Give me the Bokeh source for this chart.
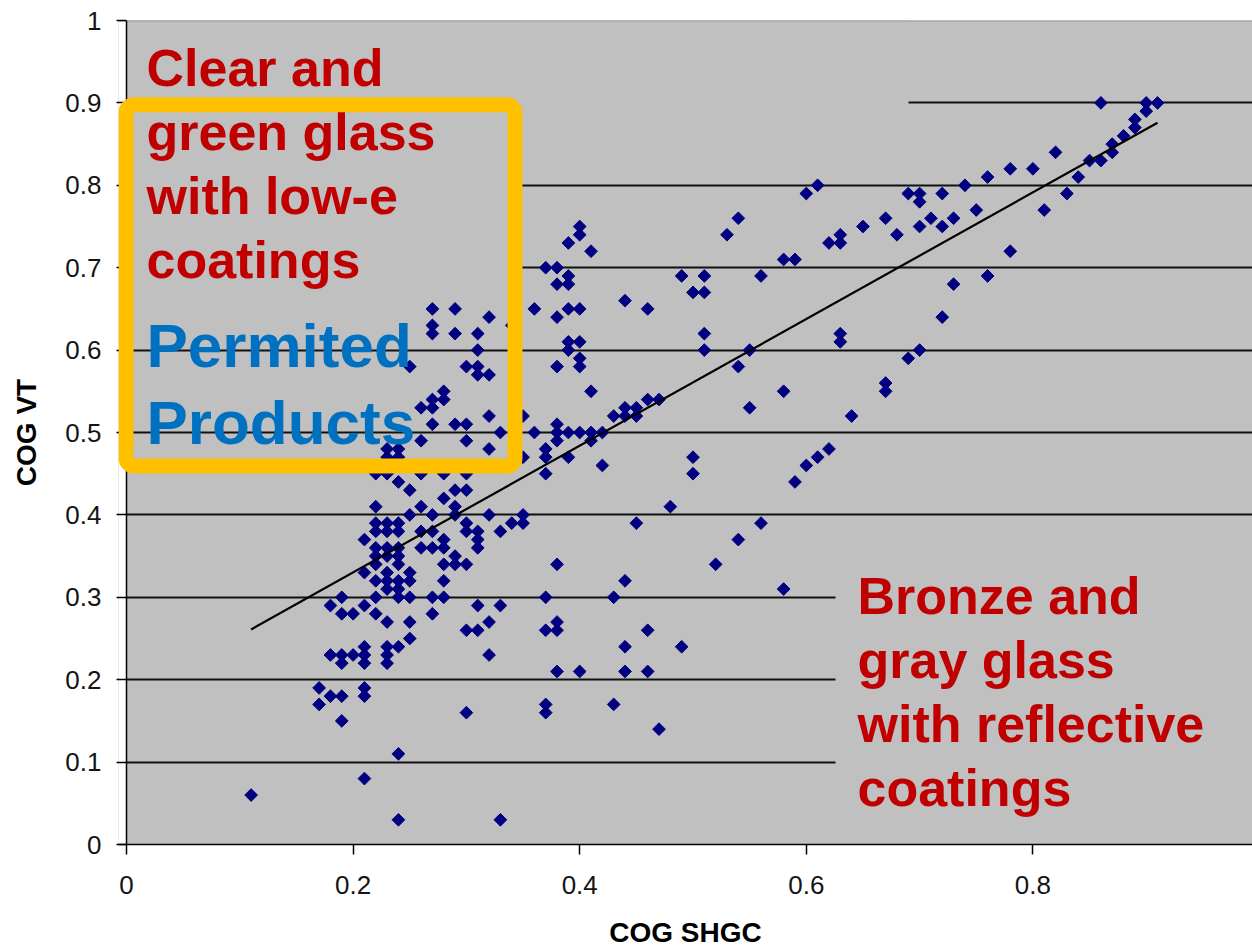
import math
from bokeh.plotting import figure
from bokeh.models import Range1d, FixedTicker, BoxAnnotation, Label, Span
from bokeh.embed import file_html
from bokeh.resources import INLINE

# ---------------- data ----------------
shgc = [
    0.11, 0.21, 0.24, 0.24, 0.33, 0.19, 0.30, 0.17, 0.17, 0.18,
    0.19, 0.21, 0.21, 0.18, 0.19, 0.19, 0.20, 0.21, 0.21, 0.21,
    0.23, 0.23, 0.23, 0.24, 0.25, 0.32, 0.30, 0.31, 0.32, 0.31,
    0.33, 0.18, 0.19, 0.19, 0.20, 0.21, 0.22, 0.22, 0.23, 0.25,
    0.22, 0.23, 0.23, 0.24, 0.24, 0.24, 0.25, 0.25, 0.27, 0.28,
    0.27, 0.28, 0.21, 0.23, 0.25, 0.22, 0.24, 0.28, 0.29, 0.30,
    0.22, 0.23, 0.24, 0.29, 0.22, 0.23, 0.24, 0.26, 0.27, 0.28,
    0.31, 0.21, 0.28, 0.31, 0.22, 0.23, 0.24, 0.26, 0.27, 0.30,
    0.31, 0.33, 0.22, 0.23, 0.24, 0.30, 0.34, 0.35, 0.25, 0.27,
    0.29, 0.32, 0.35, 0.22, 0.26, 0.29, 0.28, 0.25, 0.29, 0.30,
    0.24, 0.22, 0.23, 0.26, 0.28, 0.30, 0.23, 0.24, 0.35, 0.23,
    0.24, 0.32, 0.26, 0.30, 0.33, 0.27, 0.29, 0.30, 0.32, 0.35,
    0.26, 0.27, 0.27, 0.28, 0.28, 0.31, 0.32, 0.25, 0.30, 0.31,
    0.31, 0.27, 0.29, 0.31, 0.27, 0.34, 0.32, 0.27, 0.29, 0.36,
    0.40, 0.40, 0.39, 0.41, 0.37, 0.38, 0.39, 0.39, 0.38, 0.38,
    0.39, 0.40, 0.44, 0.46, 0.39, 0.40, 0.39, 0.40, 0.40, 0.38,
    0.41, 0.36, 0.38, 0.38, 0.38, 0.39, 0.40, 0.41, 0.42, 0.41,
    0.37, 0.37, 0.37, 0.39, 0.42, 0.43, 0.44, 0.44, 0.45, 0.45,
    0.46, 0.47, 0.50, 0.50, 0.48, 0.49, 0.51, 0.50, 0.51, 0.51,
    0.51, 0.53, 0.54, 0.56, 0.55, 0.54, 0.55, 0.58, 0.59, 0.58,
    0.64, 0.63, 0.63, 0.62, 0.63, 0.63, 0.65, 0.59, 0.60, 0.61,
    0.62, 0.60, 0.61, 0.45, 0.56, 0.54, 0.52, 0.58, 0.38, 0.44,
    0.37, 0.43, 0.37, 0.38, 0.38, 0.46, 0.44, 0.49, 0.38, 0.40,
    0.44, 0.46, 0.37, 0.37, 0.43, 0.47,
    0.86, 0.90, 0.91, 0.90, 0.89, 0.89, 0.88, 0.87, 0.87, 0.86,
    0.85, 0.84, 0.83, 0.81, 0.82, 0.80, 0.78, 0.76, 0.74, 0.72,
    0.70, 0.69, 0.70, 0.75, 0.73, 0.71, 0.72, 0.70, 0.68, 0.67,
    0.78, 0.76, 0.73, 0.72, 0.67, 0.67, 0.69, 0.70,
]
vt = [
    0.06, 0.08, 0.11, 0.03, 0.03, 0.15, 0.16, 0.19, 0.17, 0.18,
    0.18, 0.19, 0.18, 0.23, 0.23, 0.22, 0.23, 0.24, 0.23, 0.22,
    0.24, 0.23, 0.22, 0.24, 0.25, 0.23, 0.26, 0.26, 0.27, 0.29,
    0.29, 0.29, 0.30, 0.28, 0.28, 0.29, 0.28, 0.30, 0.27, 0.27,
    0.32, 0.32, 0.31, 0.32, 0.31, 0.30, 0.32, 0.30, 0.30, 0.30,
    0.28, 0.32, 0.33, 0.33, 0.33, 0.34, 0.34, 0.34, 0.34, 0.34,
    0.35, 0.35, 0.35, 0.35, 0.36, 0.36, 0.36, 0.36, 0.36, 0.36,
    0.36, 0.37, 0.37, 0.37, 0.38, 0.38, 0.38, 0.38, 0.38, 0.38,
    0.38, 0.38, 0.39, 0.39, 0.39, 0.39, 0.39, 0.39, 0.40, 0.40,
    0.40, 0.40, 0.40, 0.41, 0.41, 0.41, 0.42, 0.43, 0.43, 0.43,
    0.44, 0.45, 0.45, 0.45, 0.45, 0.45, 0.47, 0.47, 0.47, 0.48,
    0.48, 0.48, 0.49, 0.49, 0.50, 0.51, 0.51, 0.51, 0.52, 0.52,
    0.53, 0.53, 0.54, 0.54, 0.55, 0.57, 0.57, 0.58, 0.58, 0.58,
    0.60, 0.62, 0.62, 0.62, 0.63, 0.63, 0.64, 0.65, 0.65, 0.65,
    0.75, 0.74, 0.73, 0.72, 0.70, 0.70, 0.69, 0.68, 0.68, 0.64,
    0.65, 0.65, 0.66, 0.65, 0.61, 0.61, 0.60, 0.59, 0.58, 0.58,
    0.55, 0.50, 0.51, 0.50, 0.49, 0.50, 0.50, 0.50, 0.50, 0.49,
    0.48, 0.47, 0.45, 0.47, 0.46, 0.52, 0.53, 0.52, 0.53, 0.52,
    0.54, 0.54, 0.47, 0.45, 0.41, 0.69, 0.69, 0.67, 0.67, 0.62,
    0.60, 0.74, 0.76, 0.69, 0.60, 0.58, 0.53, 0.71, 0.71, 0.55,
    0.52, 0.62, 0.61, 0.73, 0.74, 0.73, 0.75, 0.44, 0.46, 0.47,
    0.48, 0.79, 0.80, 0.39, 0.39, 0.37, 0.34, 0.31, 0.34, 0.32,
    0.30, 0.30, 0.26, 0.27, 0.26, 0.26, 0.24, 0.24, 0.21, 0.21,
    0.21, 0.21, 0.17, 0.16, 0.17, 0.14,
    0.90, 0.90, 0.90, 0.89, 0.88, 0.87, 0.86, 0.85, 0.84, 0.83,
    0.83, 0.81, 0.79, 0.77, 0.84, 0.82, 0.82, 0.81, 0.80, 0.79,
    0.79, 0.79, 0.78, 0.77, 0.76, 0.76, 0.75, 0.75, 0.74, 0.76,
    0.72, 0.69, 0.68, 0.64, 0.56, 0.55, 0.59, 0.60,
]
assert len(shgc) == len(vt)

trend_shgc = [0.11, 0.91]
trend_vt = [0.261, 0.876]

x_ticks = [0, 0.2, 0.4, 0.6, 0.8, 1.0]
x_tick_labels = ["0", "0.2", "0.4", "0.6", "0.8", "1"]
y_ticks = [0, 0.1, 0.2, 0.3, 0.4, 0.5, 0.6, 0.7, 0.8, 0.9, 1.0]
y_tick_labels = ["0", "0.1", "0.2", "0.3", "0.4", "0.5", "0.6", "0.7", "0.8", "0.9", "1"]
grid_ticks = [0.1, 0.2, 0.3, 0.4, 0.5, 0.6, 0.7, 0.8, 0.9]

note_lowe = ["Clear and", "green glass", "with low-e", "coatings"]
note_permit = ["Permited", "Products"]
note_refl = ["Bronze and", "gray glass", "with reflective", "coatings"]

x_title = "COG SHGC"
y_title = "COG VT"

# ---------------- layout helpers (page pixel -> data coordinates) ----------------
PX0, PX_PER = 126.0, 1133.0   # x = 0 at page px 126, 1 unit = 1133 px
PY0, PY_PER = 846.0, 826.0    # y = 0 at page px 846, 1 unit = 826 px


def dx(px):
    return (px - PX0) / PX_PER


def dy(py):
    return (PY0 - py) / PY_PER


FONT = "Liberation Sans"
BG = "#C0C0C0"
FRAME_LEFT = 118   # frame starts 8px left of x = 0 so the orange frame can cover the axis

W, H = 1252, 950
p = figure(width=W, height=H, output_backend="svg", toolbar_location=None,
           x_range=Range1d(dx(FRAME_LEFT), dx(W)), y_range=Range1d(0, 1),
           min_border_left=FRAME_LEFT, min_border_right=0, min_border_top=20,
           min_border_bottom=104)
p.background_fill_color = BG
p.border_fill_color = "white"
p.outline_line_color = None

# axes
p.xaxis.ticker = FixedTicker(ticks=x_ticks)
p.yaxis.ticker = FixedTicker(ticks=y_ticks)
p.xaxis.major_label_overrides = dict(zip(x_ticks, x_tick_labels))
p.yaxis.major_label_overrides = dict(zip(y_ticks, y_tick_labels))
for ax in (p.xaxis, p.yaxis):
    ax.axis_line_color = "black"
    ax.axis_line_width = 1.5
    ax.major_tick_line_color = "black"
    ax.major_tick_line_width = 1.5
    ax.minor_tick_line_color = None
    ax.major_label_text_font = FONT
    ax.major_label_text_font_size = "26px"
    ax.major_label_text_color = "#141414"
    ax.axis_label_text_font = FONT
    ax.axis_label_text_font_style = "bold"
    ax.axis_label_text_font_size = "28px"
    ax.axis_label_text_color = "black"
p.xaxis.major_tick_in = 0
p.xaxis.major_tick_out = 10
p.xaxis.major_label_standoff = 21
p.xaxis.axis_label = x_title
p.xaxis.axis_label_standoff = 20
# y axis sits at the frame edge (8px left of x=0); ticks reach in to x=0
p.yaxis.axis_line_color = None
p.yaxis.major_tick_in = 8
p.yaxis.major_tick_out = 2
p.yaxis.major_label_standoff = 15
p.yaxis.axis_label = y_title
p.yaxis.axis_label_standoff = 20

p.xgrid.grid_line_color = None
p.ygrid.ticker = FixedTicker(ticks=grid_ticks)
p.ygrid.grid_line_color = "#111111"
p.ygrid.grid_line_width = 1.8

# white strip left of x=0, then gray text-box backgrounds hiding parts of gridlines
p.add_layout(BoxAnnotation(right=0, fill_color="white", fill_alpha=1.0,
                           line_alpha=0, level="underlay"))
for kw in (dict(left=0, right=dx(908), bottom=dy(140)),
           dict(left=0, right=dx(521), bottom=dy(302)),
           dict(left=dx(835), top=dy(552))):
    p.add_layout(BoxAnnotation(fill_color=BG, fill_alpha=1.0, line_alpha=0,
                               level="underlay", **kw))

# plot-area top border and the vertical axis line at x = 0
p.add_layout(Span(location=1, dimension="width", line_color="#9a9a9a",
                  line_width=2, level="underlay"))
p.add_layout(Span(location=0, dimension="height", line_color="black",
                  line_width=1.5, level="underlay"))

# data points
p.scatter(shgc, vt, marker="square", size=9, angle=math.pi / 4,
          fill_color="#000080", line_color="#000080", line_width=1)

# linear trendline
p.line(trend_shgc, trend_vt, line_color="black", line_width=2.2)

# orange frame around the "permitted" zone
p.add_layout(BoxAnnotation(left=dx(125.5), right=dx(514.5), top=dy(104.5),
                           bottom=dy(466.5), fill_alpha=0,
                           line_color="#FFC000", line_alpha=1.0,
                           line_width=15, border_radius=8, level="overlay"))


def add_lines(lines, px, baselines, color, size):
    shift = 0.33 * size   # compensate Bokeh's baseline placement
    for txt, by in zip(lines, baselines):
        p.add_layout(Label(x=dx(px), y=dy(by - shift), text=txt, text_font=FONT,
                           text_font_style="bold", text_font_size=f"{size}px",
                           text_color=color, text_align="left",
                           text_baseline="alphabetic"))


add_lines(note_lowe, 146, [85, 149, 213, 277], "#C00000", 52)
add_lines(note_permit, 146, [366, 443], "#0070C0", 62)
add_lines(note_refl, 857, [614, 678, 742, 807], "#C00000", 52)

open("out.html", "w").write(file_html(p, INLINE))
